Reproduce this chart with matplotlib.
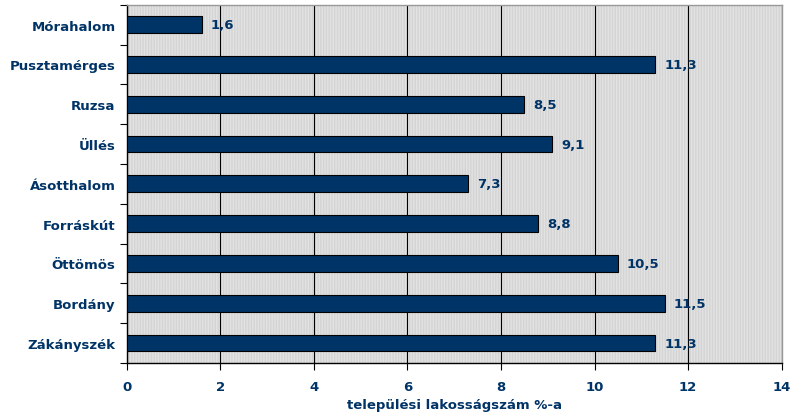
import matplotlib
matplotlib.use("Agg")
import matplotlib.pyplot as plt
from matplotlib.patches import Rectangle

# data, top to bottom as in the chart
telepulesek = ["Mórahalom", "Pusztamérges", "Ruzsa", "Üllés", "Ásotthalom",
               "Forráskút", "Öttömös", "Bordány", "Zákányszék"]
ertekek = [1.6, 11.3, 8.5, 9.1, 7.3, 8.8, 10.5, 11.5, 11.3]
xticks = [0, 2, 4, 6, 8, 10, 12, 14]

navy = "#003366"
plt.rcParams["font.family"] = ["DejaVu Sans"]
plt.rcParams["font.weight"] = "bold"

fig = plt.figure(figsize=(7.92, 4.14), dpi=100)
ax = fig.add_axes([0.160, 0.121, 0.827, 0.865])

# striped gray background
ax.set_facecolor("#e2e2e2")
bg = Rectangle((0, 0), 1, 1, transform=ax.transAxes, facecolor="none",
               edgecolor="#d4d4d4", hatch="||||||", linewidth=0, zorder=0)
ax.add_patch(bg)

y = list(range(len(telepulesek)))[::-1]
ax.barh(y, ertekek, height=0.42, color=navy, edgecolor="black",
        linewidth=0.8, zorder=3)

for yi, v in zip(y, ertekek):
    ax.text(v + 0.19, yi, f"{v:.1f}".replace(".", ","), va="center",
            ha="left", color=navy, fontsize=9.5, fontweight="bold", zorder=4)

ax.set_xlim(0, 14)
ax.set_ylim(-0.5, len(telepulesek) - 0.5)
ax.set_xticks(xticks)
ax.set_xticklabels([str(t) for t in xticks])
ax.xaxis.grid(True, color="black", linewidth=0.8, zorder=1)
ax.set_axisbelow(True)

ax.set_yticks(y)
ax.set_yticklabels(telepulesek)
ax.set_yticks([i - 0.5 for i in range(len(telepulesek) + 1)], minor=True)
ax.tick_params(axis="y", which="major", length=0, pad=8)
ax.tick_params(axis="y", which="minor", length=5, width=0.8, direction="out")
ax.tick_params(axis="x", length=5, width=0.8, direction="out", pad=7)

for lab in ax.get_xticklabels() + ax.get_yticklabels():
    lab.set_color(navy)
    lab.set_fontsize(9.5)
    lab.set_fontweight("bold")

ax.set_xlabel("települési lakosságszám %-a", color=navy, fontsize=9.5,
              fontweight="bold", labelpad=4)

ax.spines["left"].set_color("black")
ax.spines["bottom"].set_color("black")
ax.spines["top"].set_color("#999999")
ax.spines["right"].set_color("#999999")
for s in ax.spines.values():
    s.set_linewidth(1.0)

fig.savefig("out.png", dpi=100)
